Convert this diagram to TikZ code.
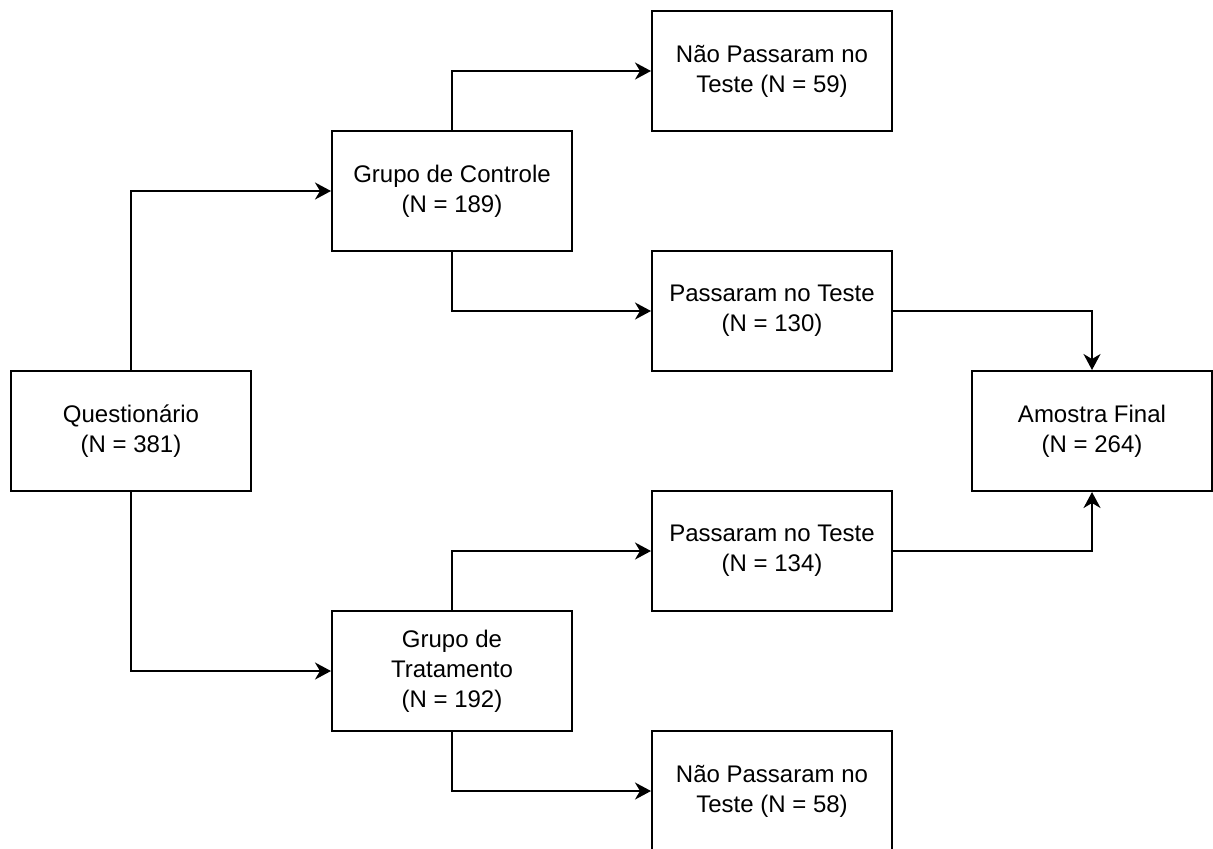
\documentclass[tikz,border=0pt]{standalone}
\usepackage{fontspec}
\setmainfont{Liberation Sans}
\usetikzlibrary{arrows.meta}

\begin{document}
\begin{tikzpicture}[x=0.5pt, y=-0.5pt, >={Stealth[length=8pt, width=8.5pt, inset=2.5pt]},
    box/.style={draw, line width=1pt, minimum width=120pt, minimum height=60pt,
        align=center, font=\fontsize{12}{15}\selectfont, inner sep=0pt},
    link/.style={->, line width=1pt}]
    \useasboundingbox (0, 0) rectangle (1213, 848);

    % Boxes
    \node[box] (quest) at (131, 431) {Questionário\\(N = 381)};
    \node[box] (controle) at (452, 191) {Grupo de Controle\\(N = 189)};
    \node[box] (tratamento) at (452, 671) {Grupo de\\Tratamento\\(N = 192)};
    \node[box] (naoC) at (772, 71) {Não Passaram no\\Teste (N = 59)};
    \node[box] (passC) at (772, 311) {Passaram no Teste\\(N = 130)};
    \node[box] (passT) at (772, 551) {Passaram no Teste\\(N = 134)};
    \node[box] (naoT) at (772, 791) {Não Passaram no\\Teste (N = 58)};
    \node[box] (final) at (1092, 431) {Amostra Final\\(N = 264)};

    % Arrows
    \draw[link] (quest.north) |- (controle.west);
    \draw[link] (quest.south) |- (tratamento.west);
    \draw[link] (controle.north) |- (naoC.west);
    \draw[link] (controle.south) |- (passC.west);
    \draw[link] (tratamento.north) |- (passT.west);
    \draw[link] (tratamento.south) |- (naoT.west);
    \draw[link] (passC.east) -| (final.north);
    \draw[link] (passT.east) -| (final.south);
\end{tikzpicture}
\end{document}
